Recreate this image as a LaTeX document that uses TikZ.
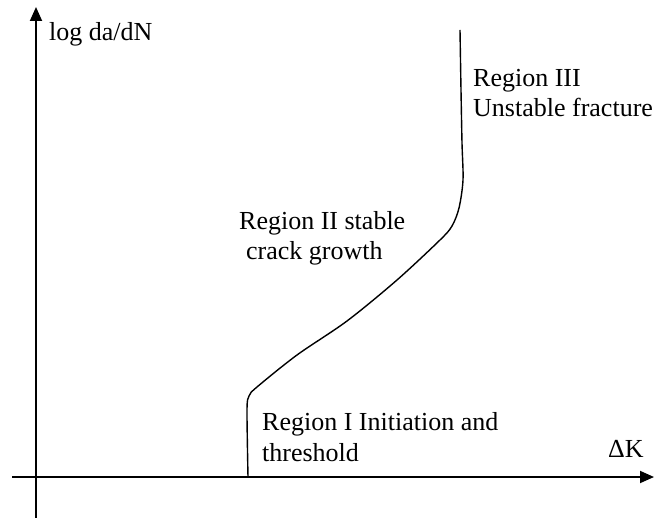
\documentclass[tikz,border=0pt]{standalone}
\usepackage{fontspec}
\setmainfont{Liberation Serif}
\usetikzlibrary{arrows.meta}
\begin{document}
\begin{tikzpicture}[x=1pt,y=-1pt,
  axis/.style={line width=1.8pt,-{Triangle[length=14pt,width=12pt]}},
  curve/.style={line width=1.4pt,line join=round},
  lbl/.style={anchor=base west,inner sep=0pt,font=\fontsize{26}{30}\selectfont}]
\useasboundingbox (0,0) rectangle (664,518);
\coordinate (ybot) at (36,518);
\coordinate (ytop) at (36,7);
\coordinate (xleft) at (12,477);
\coordinate (xright) at (654,477);
\draw[axis] (ybot) -- (ytop);
\draw[axis] (xleft) -- (xright);
\draw[curve] plot[smooth,tension=0.5] coordinates {(248,477) (247,410) (249,396) (257,387) (297,355) (347,321) (397,280) (440,240) (452,226) (459,208) (463,180) (462,143) (461,90) (460,30)};
\node[lbl] (ylab) at (49,41) {log da/dN};
\node[lbl] (r3a) at (473,87) {Region III};
\node[lbl] (r3b) at (473,117) {Unstable fracture};
\node[lbl] (r2a) at (239,230) {Region II stable};
\node[lbl] (r2b) at (246,260) {crack growth};
\node[lbl] (r1a) at (262,431) {Region I Initiation and};
\node[lbl] (r1b) at (262,461) {threshold};
\node[lbl] (xlab) at (608,457) {ΔK};
\end{tikzpicture}
\end{document}
